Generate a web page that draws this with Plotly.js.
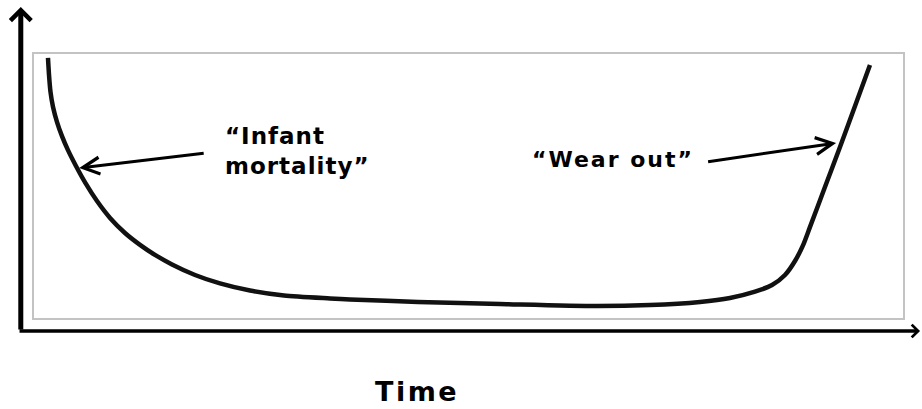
<!DOCTYPE html>
<html>
<head>
<meta charset="utf-8">
<script src="https://cdn.plot.ly/plotly-3.0.1.min.js"></script>
<style>
  html, body { margin: 0; padding: 0; background: #ffffff; }
  #chart { width: 922px; height: 409px; }
  g.annotation[data-index="4"] text.annotation-text { letter-spacing: 1px; }
  g.annotation[data-index="5"] text.annotation-text { letter-spacing: 2px; }
  g.annotation[data-index="6"] text.annotation-text { letter-spacing: 2.5px; }
</style>
</head>
<body>
<div id="chart"></div>
<script>
// Bathtub curve: failure rate over time
const timeVals = [1.61, 1.73, 1.90, 2.19, 2.65, 3.22, 3.91, 4.83, 5.98, 7.25,
                  8.75, 10.47, 12.20, 13.92, 15.88, 18.53, 21.40, 24.86, 28.77, 34.06,
                  36.36, 44.19, 53.62, 64.67, 70.88, 76.64, 80.09, 82.97, 84.93, 86.42,
                  87.57, 88.49, 89.30, 91.02, 92.75, 94.48, 96.20];
const rateVals = [98.5, 92.0, 85.6, 79.9, 74.2, 68.9, 63.6, 57.6, 50.8, 44.3,
                  37.9, 32.2, 27.7, 23.9, 20.3, 16.3, 13.1, 10.4, 8.5, 7.4,
                  7.0, 6.1, 5.3, 4.5, 4.9, 6.1, 7.6, 10.0, 12.5, 16.3,
                  21.6, 27.5, 34.5, 49.6, 64.8, 80.3, 95.8];

const infantLabel = "\u201cInfant<br>mortality\u201d";
const wearLabel = "\u201cWear out\u201d";
const xTitle = "Time";

const FONT = "DejaVu Sans, Arial, sans-serif";

const trace = {
  x: timeVals,
  y: rateVals,
  type: "scatter",
  mode: "lines",
  line: { color: "#111111", width: 4.5, shape: "spline", smoothing: 0.7 },
  hoverinfo: "skip",
  showlegend: false
};

const annotations = [
  // 0: y-axis arrow (outside the gray box)
  { xref: "paper", yref: "paper", x: -0.0152, y: 1.178, ax: 0, ay: 324,
    text: "", showarrow: true, arrowhead: 4, arrowsize: 0.8, arrowwidth: 5,
    arrowcolor: "#000000", standoff: 0 },
  // 1: x-axis arrow
  { xref: "paper", yref: "paper", x: 1.0196, y: -0.0492, ax: -902, ay: 0,
    text: "", showarrow: true, arrowhead: 4, arrowsize: 0.7, arrowwidth: 3.5,
    arrowcolor: "#000000", standoff: 0 },
  // 2: infant mortality pointer
  { xref: "x", yref: "y", axref: "x", ayref: "y", x: 5.2, y: 56.8, ax: 19.7, ay: 62.5,
    text: "", showarrow: true, arrowhead: 5, arrowsize: 1.1, arrowwidth: 3,
    arrowcolor: "#000000", standoff: 0 },
  // 3: wear out pointer
  { xref: "x", yref: "y", axref: "x", ayref: "y", x: 92.3, y: 66.3, ax: 77.4, ay: 59.1,
    text: "", showarrow: true, arrowhead: 5, arrowsize: 1.1, arrowwidth: 3,
    arrowcolor: "#000000", standoff: 0 },
  // 4: infant label
  { xref: "x", yref: "y", x: 21.8, y: 63.3, xanchor: "left", yanchor: "middle", align: "left",
    text: infantLabel, showarrow: false,
    font: { family: FONT, size: 23, color: "#000000", weight: "bold" } },
  // 5: wear out label
  { xref: "x", yref: "y", x: 58.2, y: 60.1, xanchor: "left", yanchor: "middle",
    text: wearLabel, showarrow: false,
    font: { family: FONT, size: 22, color: "#000000", weight: "bold" } },
  // 6: x-axis title
  { xref: "paper", yref: "paper", x: 0.4407, y: -0.2803, xanchor: "center", yanchor: "middle",
    text: xTitle, showarrow: false,
    font: { family: FONT, size: 27, color: "#000000", weight: "bold" } }
];

const layout = {
  width: 922,
  height: 409,
  margin: { l: 34, r: 19, t: 54, b: 91, pad: 0 },
  paper_bgcolor: "#ffffff",
  plot_bgcolor: "#ffffff",
  showlegend: false,
  xaxis: {
    range: [0, 100], showgrid: false, zeroline: false, showticklabels: false,
    ticks: "", showline: true, mirror: true, linecolor: "#c3c3c3", linewidth: 2,
    fixedrange: true
  },
  yaxis: {
    range: [0, 100], showgrid: false, zeroline: false, showticklabels: false,
    ticks: "", showline: true, mirror: true, linecolor: "#c3c3c3", linewidth: 2,
    fixedrange: true
  },
  annotations: annotations
};

Plotly.newPlot("chart", [trace], layout, { displayModeBar: false, staticPlot: true });
</script>
</body>
</html>
